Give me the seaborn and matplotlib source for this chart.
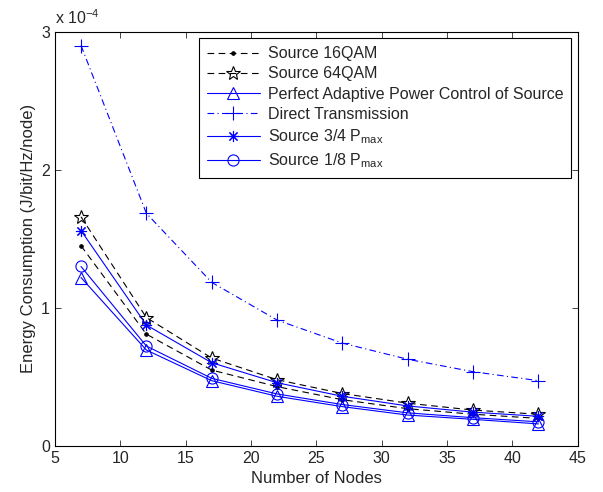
import numpy as np
import pandas as pd
import matplotlib
matplotlib.use('Agg')
import matplotlib.pyplot as plt
import seaborn as sns

# 데이터 (단위: 1e-4 J/bit/Hz/node)
nodes = [7, 12, 17, 22, 27, 32, 37, 42]
src_16qam = [1.45, 0.81, 0.55, 0.43, 0.335, 0.27, 0.23, 0.20]
src_64qam = [1.66, 0.93, 0.637, 0.48, 0.38, 0.31, 0.26, 0.23]
perfect_apc = [1.22, 0.695, 0.473, 0.36, 0.285, 0.224, 0.193, 0.16]
direct_tx = [2.90, 1.685, 1.185, 0.912, 0.745, 0.628, 0.538, 0.473]
src_34 = [1.56, 0.876, 0.603, 0.458, 0.36, 0.29, 0.245, 0.215]
src_18 = [1.30, 0.724, 0.49, 0.377, 0.30, 0.24, 0.205, 0.175]

labels = ['Source 16QAM', 'Source 64QAM', 'Perfect Adaptive Power Control of Source',
          'Direct Transmission', r'Source 3/4 P$_{\rm max}$', r'Source 1/8 P$_{\rm max}$']

sns.set_style('ticks')
plt.rcParams['font.family'] = ['Liberation Sans', 'DejaVu Sans']
plt.rcParams['mathtext.fontset'] = 'custom'
plt.rcParams['mathtext.rm'] = 'Liberation Sans'

fig = plt.figure(figsize=(6.03, 4.92), dpi=100)
ax = fig.add_axes([0.091, 0.0935, 0.867, 0.842])

blue = (0, 0, 1)
styles = [
    dict(color='black', linestyle=(0, (6, 4)), marker='.', markersize=5),
    dict(color='black', linestyle=(0, (6, 4)), marker='*', markersize=10, markerfacecolor='none'),
    dict(color=blue, linestyle='-', marker='^', markersize=8, markerfacecolor='none'),
    dict(color=blue, linestyle=(0, (6, 3, 1, 3)), marker='+', markersize=10),
    dict(color=blue, linestyle='-', marker=(8, 2, 0), markersize=8),
    dict(color=blue, linestyle='-', marker='o', markersize=8, markerfacecolor='none'),
]
series = [src_16qam, src_64qam, perfect_apc, direct_tx, src_34, src_18]

for vals, lab, st in zip(series, labels, styles):
    df = pd.DataFrame({'nodes': nodes, 'energy': vals})
    sns.lineplot(data=df, x='nodes', y='energy', ax=ax, label=lab,
                 linewidth=0.8, markeredgewidth=0.8, markeredgecolor=st['color'], **st)

ax.set_xlim(5, 45)
ax.set_ylim(0, 3)
ax.set_xticks(np.arange(5, 46, 5))
ax.set_yticks([0, 1, 2, 3])
ax.tick_params(direction='in', top=True, right=True, length=4, labelsize=11.5, width=0.6)
for s in ax.spines.values():
    s.set_visible(True)
    s.set_linewidth(0.8)
    s.set_color('black')

ax.set_xlabel('Number of Nodes', fontsize=12)
ax.set_ylabel('Energy Consumption (J/bit/Hz/node)', fontsize=12)
ax.text(0.0, 1.012, r'x 10$^{-4}$', transform=ax.transAxes, fontsize=11.5, ha='left', va='bottom')

leg = ax.legend(loc='upper right', fontsize=11.5, frameon=True, fancybox=False,
                edgecolor='black', framealpha=1, borderaxespad=0.4, handlelength=3.3,
                handletextpad=0.5, labelspacing=0.33, borderpad=0.5)
leg.get_frame().set_linewidth(0.8)

fig.savefig('out.png', dpi=100, facecolor='white')
